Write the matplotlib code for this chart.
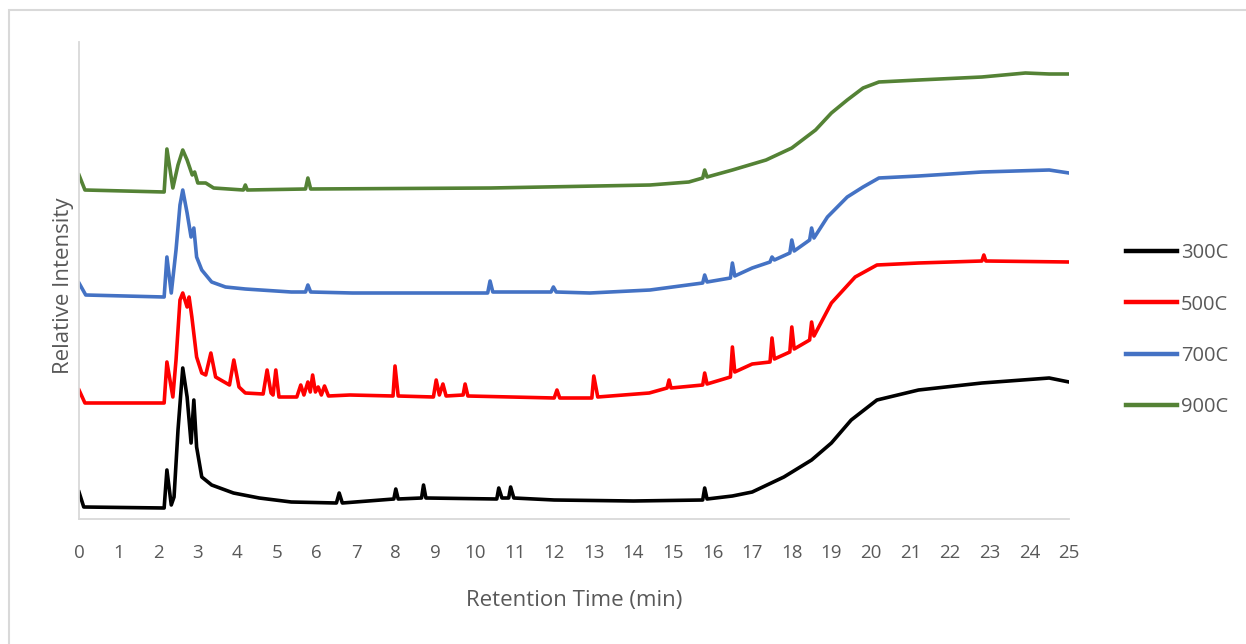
import matplotlib.pyplot as plt
from matplotlib.patches import Rectangle

# retention time (min) and relative intensity
t_300 = [0, 0.12, 2.15, 2.22, 2.33, 2.4, 2.5, 2.62, 2.73, 2.83, 2.9, 2.97, 3.1, 3.35, 3.9, 4.55,
         5.36, 6.5, 6.57, 6.65, 7.95, 8.0, 8.06, 8.65, 8.7, 8.76, 10.55, 10.6, 10.68, 10.85, 10.9,
         10.98, 12, 14, 15.75, 15.8, 15.86, 16.5, 17, 17.8, 18.5, 19.0, 19.5, 20.15, 21.2, 22.8,
         24.5, 25]
i_300 = [27, 12, 11, 49, 14, 22, 89, 151, 122, 76, 119, 72, 42, 34, 26, 21,
         17, 16, 26, 16, 20, 30, 20, 21, 34, 21, 20, 31, 21, 21, 32,
         21, 19, 18, 19, 31, 20, 23, 27, 42, 59, 76, 99, 119, 129, 136,
         141, 137]

t_500 = [0, 0.15, 2.15, 2.22, 2.37, 2.45, 2.55, 2.62, 2.73, 2.78, 2.85, 2.97, 3.1, 3.2, 3.33,
         3.45, 3.58, 3.8, 3.91, 4.04, 4.2, 4.65, 4.75, 4.85, 4.9, 4.97, 5.05, 5.5, 5.6, 5.68,
         5.78, 5.84, 5.9, 5.97, 6.04, 6.12, 6.2, 6.3, 6.84, 7.93, 7.98, 8.06, 8.95, 9.02, 9.1,
         9.19, 9.27, 9.7, 9.75, 9.82, 12.0, 12.07, 12.14, 12.95, 13.0, 13.1, 14.4, 14.85, 14.9,
         14.95, 15.75, 15.8, 15.86, 16.45, 16.5, 16.56, 17.0, 17.45, 17.5, 17.56, 17.95, 18.0,
         18.06, 18.45, 18.5, 18.56, 19.0, 19.6, 20.15, 21.2, 22.8, 22.85, 22.9, 25]
i_500 = [129, 116, 116, 157, 122, 159, 219, 226, 212, 222, 202, 162, 146, 144, 166,
         142, 139, 134, 159, 132, 126, 125, 149, 126, 124, 149, 122, 122, 134, 124,
         137, 127, 144, 127, 132, 124, 133, 123, 124, 123, 153, 123, 122, 139, 124,
         135, 123, 124, 135, 123, 121, 129, 121, 121, 143, 122, 126, 131, 139,
         131, 134, 146, 135, 142, 172, 147, 155, 157, 181, 160, 167, 192,
         170, 179, 197, 183, 216, 242, 254, 256, 258, 264, 258, 257]

t_700 = [0, 0.17, 2.15, 2.22, 2.33, 2.45, 2.55, 2.62, 2.73, 2.83, 2.9, 2.97, 3.1, 3.35, 3.7,
         4.2, 5.36, 5.72, 5.78, 5.85, 6.9, 10.32, 10.38, 10.45, 11.92, 11.98, 12.05, 12.9,
         14.42, 15.75, 15.8, 15.86, 16.45, 16.5, 16.56, 17.0, 17.45, 17.5, 17.56, 17.95, 18.0,
         18.06, 18.45, 18.5, 18.56, 18.9, 19.4, 19.8, 20.2, 21.2, 22.8, 24.5, 25]
i_700 = [236, 224, 222, 262, 226, 269, 314, 329, 306, 282, 291, 262, 249, 237, 232,
         230, 227, 227, 234, 227, 226, 226, 238, 227, 227, 232, 227, 226,
         229, 236, 244, 237, 241, 256, 243, 251, 257, 262, 259, 266, 279,
         268, 279, 291, 281, 302, 322, 332, 341, 343, 347, 349, 346]

t_900 = [0, 0.15, 2.15, 2.22, 2.37, 2.5, 2.62, 2.73, 2.86, 2.92, 3.0, 3.2, 3.4, 4.15, 4.2,
         4.25, 5.72, 5.78, 5.85, 10.4, 14.42, 15.4, 15.75, 15.8, 15.86, 16.5, 17.35, 18.0,
         18.6, 19.0, 19.4, 19.8, 20.2, 21.2, 22.8, 23.9, 24.5, 25]
i_900 = [344, 329, 327, 370, 331, 354, 369, 359, 344, 347, 336, 336, 331, 329, 334,
         329, 330, 341, 330, 331, 334, 337, 341, 349, 342, 349, 359, 371,
         389, 406, 419, 431, 437, 439, 442, 446, 445, 445]

labels = ['300C', '500C', '700C', '900C']
colors = ['#000000', '#FF0000', '#4472C4', '#548235']

plt.rcParams['font.family'] = ['Open Sans', 'DejaVu Sans']
grey = '#595959'

fig = plt.figure(figsize=(12.46, 6.44), dpi=100)
fig.patches.append(Rectangle((9 / 1246, -0.1), 1.2, 1.1 - 10 / 644, transform=fig.transFigure,
                             fill=False, edgecolor='#d9d9d9', linewidth=1.5))
ax = fig.add_axes([79 / 1246, 125 / 644, 990 / 1246, 477 / 644])

for t, i, lab, c in zip([t_300, t_500, t_700, t_900], [i_300, i_500, i_700, i_900], labels, colors):
    ax.plot(t, i, color=c, lw=2.6, label=lab, solid_joinstyle='round')

ax.set_xlim(0, 25)
ax.set_ylim(0, 477)
ax.set_xticks(range(0, 26))
ax.set_yticks([])
ax.tick_params(axis='x', length=0, pad=18, labelsize=13.5, labelcolor=grey)
for s in ['top', 'right']:
    ax.spines[s].set_visible(False)
for s in ['left', 'bottom']:
    ax.spines[s].set_color('#d9d9d9')
    ax.spines[s].set_linewidth(1.3)
ax.set_xlabel('Retention Time (min)', fontsize=16, color=grey, labelpad=20)
ax.set_ylabel('Relative Intensity', fontsize=16, color=grey)
ax.yaxis.set_label_coords(-0.005, 0.49)

leg = ax.legend(loc='center left', bbox_to_anchor=(1.039, 0.396), frameon=False, fontsize=14.5,
                labelcolor=grey, handlelength=2.55, handletextpad=0.18, labelspacing=1.55)
for h in leg.get_lines():
    h.set_linewidth(3.2)

fig.savefig('out.png', dpi=100)
